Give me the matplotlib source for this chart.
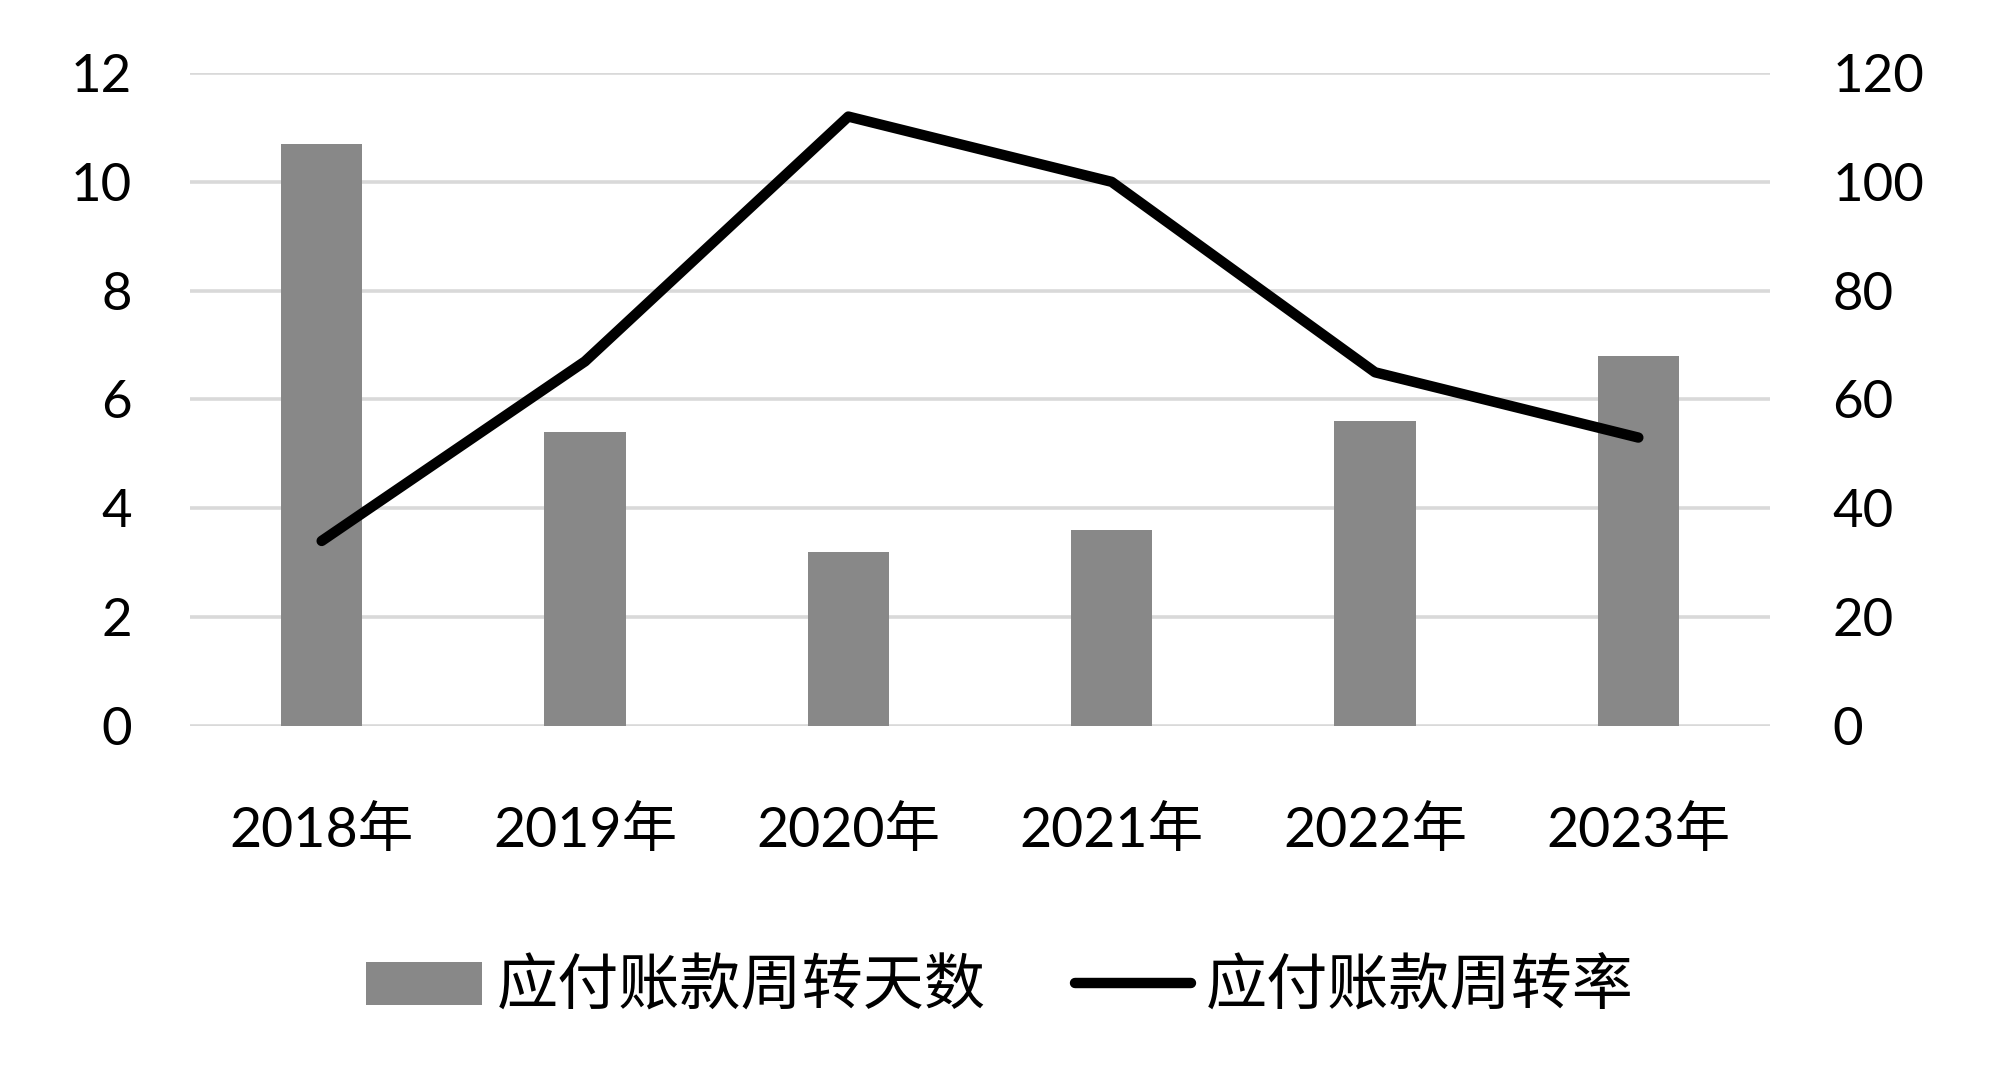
import matplotlib
matplotlib.use('Agg')
import matplotlib.pyplot as plt
import numpy as np

# Dados
anos = ['2018年', '2019年', '2020年', '2021年', '2022年', '2023年']
dias_giro = [10.7, 5.4, 3.2, 3.6, 5.6, 6.8]
taxa_giro = [34, 67, 112, 100, 65, 53]

nome_barras = '应付账款周转天数'
nome_linha = '应付账款周转率'

plt.rcParams['font.family'] = ['Lato', 'Noto Sans CJK SC', 'DejaVu Sans']

fig = plt.figure(figsize=(20, 10.9), dpi=100)
ax = fig.add_axes([0.095, 0.334, 0.79, 0.599])
ax2 = ax.twinx()

x = np.arange(len(anos))

# Barras (eixo esquerdo)
ax.bar(x, dias_giro, width=0.31, color='#888888', zorder=2, label=nome_barras)
ax.set_ylim(0, 12)
ax.set_yticks(np.arange(0, 13, 2))
ax.set_xlim(-0.5, len(anos) - 0.5)
ax.set_xticks(x)
ax.set_xticklabels(anos)
ax.grid(axis='y', color='#d9d9d9', linewidth=2.6, zorder=0)
ax.set_axisbelow(True)

# Linha (eixo direito)
ax2.plot(x, taxa_giro, color='black', linewidth=7.5, solid_capstyle='round',
         solid_joinstyle='round', zorder=3, label=nome_linha)
ax2.set_ylim(0, 120)
ax2.set_yticks(np.arange(0, 121, 20))

for a in (ax, ax2):
    for s in a.spines.values():
        s.set_visible(False)

ax.tick_params(axis='y', length=0, pad=42, labelsize=38)
ax2.tick_params(axis='y', length=0, pad=45, labelsize=38)
ax.tick_params(axis='x', length=0, pad=58, labelsize=40)

# Legenda
h1, l1 = ax.get_legend_handles_labels()
h2, l2 = ax2.get_legend_handles_labels()
fig.legend(h1 + h2, l1 + l2, loc='center', bbox_to_anchor=(0.5, 0.094), ncol=2,
           frameon=False, handlelength=1.9, handletextpad=0.25,
           columnspacing=1.45, prop={'family': ['Noto Sans CJK SC'], 'size': 44})

fig.savefig('out.png', dpi=100, facecolor='white')
plt.close(fig)
